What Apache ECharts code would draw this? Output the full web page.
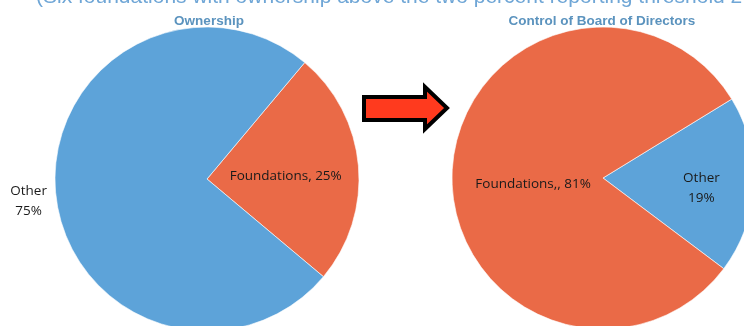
<!DOCTYPE html>
<html>
<head>
<meta charset="utf-8">
<script src="https://cdn.jsdelivr.net/npm/echarts@6/dist/echarts.min.js"></script>
<style>
  html, body { margin: 0; padding: 0; background: #fff; }
  #chart { width: 744px; height: 326px; }
</style>
</head>
<body>
<div id="chart"></div>
<script>
// Share of ownership vs. share of board control held by foundations
const ownershipNames = ['Foundations', 'Other'];
const ownershipValues = [25, 75];
const boardNames = ['Other', 'Foundations'];
const boardValues = [19, 81];

const BLUE = '#5DA3D9';
const ORANGE = '#EA6A47';
const FONT = '"Open Sans", "Liberation Sans", sans-serif';
const TITLE_FONT = '"Liberation Sans", Arial, sans-serif';

// text token styles; "sN" tokens are empty spacer lines that nudge a label down
const txt = { fontSize: 13.5, lineHeight: 20, color: '#1a1a1a', fontFamily: FONT };
const richStyles = {
  t: txt,
  c: Object.assign({ width: 38, align: 'center' }, txt),
  s8: { height: 8, lineHeight: 8, fontSize: 1 },
  s13: { height: 13, lineHeight: 13, fontSize: 1 },
  s20: { height: 20, lineHeight: 20, fontSize: 1 }
};

const chart = echarts.init(document.getElementById('chart'), null, { renderer: 'canvas' });

const ownershipData = ownershipNames.map((n, i) => {
  const item = { name: n, value: ownershipValues[i] };
  if (n === 'Foundations') {
    item.itemStyle = { color: ORANGE };
    item.label = { position: 'inside', formatter: '{s8|}\n{t|{b}, {c}%}' };
  } else {
    item.itemStyle = { color: BLUE };
    item.label = {
      position: 'outside',
      formatter: '{c|{b}}\n{c|{c}%}',
      padding: [18, 0, 0, 0]
    };
    item.labelLine = { show: false, length: 0, length2: 3 };
  }
  return item;
});

const boardData = boardNames.map((n, i) => {
  const item = { name: n, value: boardValues[i] };
  if (n === 'Foundations') {
    item.itemStyle = { color: ORANGE };
    item.label = { position: 'inside', formatter: '{s20|}\n{t|{b},, {c}%}', padding: [0, 0, 0, 17] };
  } else {
    item.itemStyle = { color: BLUE };
    item.label = { position: 'inside', formatter: '{s13|}\n{t|{b}}\n{t|{c}%}', padding: [0, 0, 0, 40] };
  }
  return item;
});

const commonLabel = {
  color: '#1a1a1a',
  fontFamily: FONT,
  fontSize: 13.5,
  lineHeight: 20,
  rich: richStyles
};

chart.setOption({
  animation: false,
  backgroundColor: '#fff',
  title: [
    {
      text: 'Ownership',
      left: 204, top: 9, textAlign: 'center',
      textStyle: { color: '#5B93BE', fontSize: 13.5, fontWeight: 'bold', fontFamily: TITLE_FONT }
    },
    {
      text: 'Control of Board of Directors',
      left: 597, top: 9, textAlign: 'center',
      textStyle: { color: '#5B93BE', fontSize: 13.5, fontWeight: 'bold', fontFamily: TITLE_FONT }
    }
  ],
  graphic: [
    {
      type: 'text',
      left: 36, top: -13,
      style: {
        text: '(Six foundations with ownership above the two percent reporting threshold 2',
        fill: '#6FA6D6',
        font: '21px "Liberation Sans", Arial, sans-serif'
      }
    },
    {
      type: 'polygon',
      shape: {
        points: [[364, 97], [425, 97], [425, 87], [447, 108], [425, 129], [425, 120], [364, 120]]
      },
      style: { fill: '#FF3A1E', stroke: '#000', lineWidth: 4, lineJoin: 'miter' }
    }
  ],
  series: [
    {
      type: 'pie',
      center: [207, 179],
      radius: [0, 152],
      startAngle: 50,
      clockwise: true,
      avoidLabelOverlap: false,
      itemStyle: { borderColor: '#fff', borderWidth: 0.6 },
      label: commonLabel,
      emphasis: { disabled: true },
      data: ownershipData
    },
    {
      type: 'pie',
      center: [603, 178],
      radius: [0, 151],
      startAngle: 31.5,
      clockwise: true,
      avoidLabelOverlap: false,
      itemStyle: { borderColor: '#fff', borderWidth: 0.6 },
      label: commonLabel,
      emphasis: { disabled: true },
      data: boardData
    }
  ]
});
</script>
</body>
</html>
